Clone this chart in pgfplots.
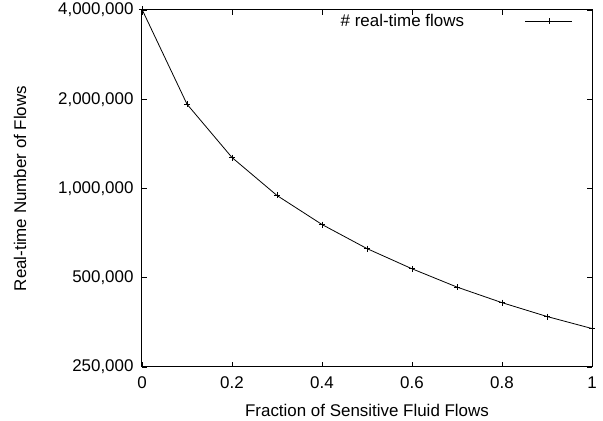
\documentclass[border=0pt]{standalone}
\usepackage{fontspec}
\setmainfont{Liberation Sans}
\usepackage{pgfplots}
\pgfplotsset{compat=1.18}
\begin{document}
\begin{tikzpicture}[font=\fontsize{17}{20}\selectfont]
\begin{axis}[
  at={(0,0)}, anchor=south west,
  scale only axis, width=450bp, height=357bp,
  xmin=0, xmax=1, ymode=log, ymin=250000, ymax=4000000,
  xtick={0,0.2,0.4,0.6,0.8,1},
  xticklabels={0,0.2,0.4,0.6,0.8,1},
  ytick={250000,500000,1000000,2000000,4000000},
  yticklabels={{250,000},{500,000},{1,000,000},{2,000,000},{4,000,000}},
  minor tick num=0, log basis y=10,
  tick align=inside, major tick length=5bp,
  xtick pos=both, ytick pos=both,
  axis line style={line width=1pt},
  tick style={line width=0.8pt, black},
  xticklabel style={yshift=-6bp},
  yticklabel style={xshift=-5bp},
  xlabel={Fraction of Sensitive Fluid Flows},
  ylabel={Real-time Number of Flows},
  xlabel style={at={(axis description cs:0.5,-0.1204)}, anchor=center},
  ylabel style={at={(axis description cs:-0.271,0.5)}, anchor=center},
  legend style={draw=none, fill=none, inner sep=0pt, at={(1,1)}, anchor=north east, xshift=-19bp, yshift=-2bp, font=\fontsize{17}{20}\selectfont},
  legend plot pos=right,
  legend cell align=right,
  legend image code/.code={
    \path (0bp,0bp) -- (0bp,0bp);
    \draw[#1, mark=none] (59bp,0bp) -- (106bp,0bp);
    \draw[#1, only marks] plot coordinates {(82.5bp,0bp)};
  },
  clip=false,
]
\addplot[black, line width=0.8pt, mark=+, mark size=3bp, mark options={line width=0.8pt}] coordinates {
(0,4020000) (0.1,1925000) (0.2,1272000) (0.3,947000) (0.4,756000) (0.5,627000)
(0.6,536000) (0.7,465000) (0.8,412000) (0.9,370000) (1.0,337000)
};
\addlegendentry{\# real-time flows}
\end{axis}
\pgfresetboundingbox
\path[use as bounding box] (-142bp,-54bp) rectangle (461bp,367bp);
\end{tikzpicture}
\end{document}
